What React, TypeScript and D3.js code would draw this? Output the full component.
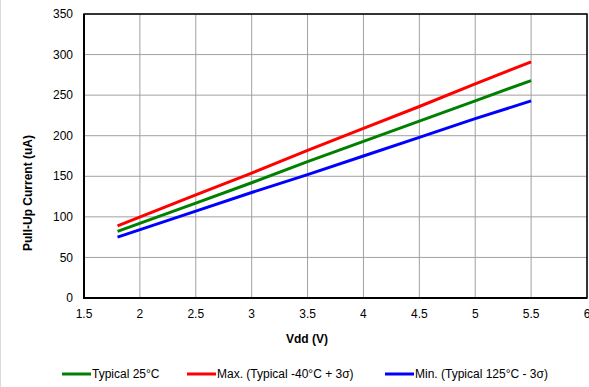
import React from "react";
import * as d3 from "d3";

const vdd = [1.8, 2.5, 3.0, 3.5, 4.0, 4.5, 5.0, 5.5];
const typical25 = [82, 117, 142, 168, 193, 218, 243, 268];
const max40 = [89, 127, 154, 182, 209, 236, 264, 291];
const min125 = [75, 107, 130, 152, 175, 198, 221, 243];
const xTicks = [1.5, 2, 2.5, 3, 3.5, 4, 4.5, 5, 5.5, 6];
const yTicks = [0, 50, 100, 150, 200, 250, 300, 350];
const seriesNames = ["Typical 25°C", "Max. (Typical -40°C + 3σ)", "Min. (Typical 125°C - 3σ)"];
const seriesColors = ["#008000", "#ff0000", "#0000ff"];

const W = 589, H = 387;
const L = 84, R = 587, T = 14, B = 298;
const FONT = "'Liberation Sans', Arial, sans-serif";

export default function App() {
  const x = d3.scaleLinear().domain([1.5, 6]).range([L, R]);
  const y = d3.scaleLinear().domain([0, 350]).range([B, T]);
  const series = [typical25, max40, min125];
  const line = d3.line<[number, number]>().x(d => x(d[0])).y(d => y(d[1]));
  const legendX = [62, 187, 385];

  return (
    <svg width={W} height={H} style={{ position: "absolute", left: 0, top: 0, fontFamily: FONT }}>
      <rect x={0} y={0} width={W} height={H} fill="#fff" />
      <line x1={0.5} x2={0.5} y1={0} y2={H} stroke="#d9d9d9" />
      {xTicks.map(t => (
        <line key={"gx" + t} x1={x(t)} x2={x(t)} y1={T} y2={B} stroke="#a0a0a0" strokeWidth={1} />
      ))}
      {yTicks.map(t => (
        <line key={"gy" + t} x1={L} x2={R} y1={y(t)} y2={y(t)} stroke="#a0a0a0" strokeWidth={1} />
      ))}
      <rect x={L} y={T} width={R - L} height={B - T} fill="none" stroke="#000" strokeWidth={1.5} />
      <line x1={L} x2={L} y1={T} y2={B + 1} stroke="#000" strokeWidth={2} />
      <line x1={L - 1} x2={R} y1={B} y2={B} stroke="#000" strokeWidth={2} />
      {series.map((s, i) => (
        <path key={i} d={line(vdd.map((v, j) => [v, s[j]]))!} fill="none" stroke={seriesColors[i]} strokeWidth={3} />
      ))}
      {yTicks.map(t => (
        <text key={"ty" + t} x={73} y={y(t)} dy="0.35em" textAnchor="end" fontSize={12} fill="#000">{t}</text>
      ))}
      {xTicks.map(t => (
        <text key={"tx" + t} x={x(t)} y={318} textAnchor="middle" fontSize={12} fill="#000">{t}</text>
      ))}
      <text x={307} y={343} textAnchor="middle" fontSize={12} fontWeight="bold">Vdd (V)</text>
      <text transform="translate(32,193) rotate(-90)" textAnchor="middle" fontSize={12} fontWeight="bold">Pull-Up Current (uA)</text>
      {seriesNames.map((n, i) => (
        <g key={n}>
          <line x1={legendX[i]} x2={legendX[i] + 29} y1={374} y2={374} stroke={seriesColors[i]} strokeWidth={3} />
          <text x={legendX[i] + 30} y={378} fontSize={12}>{n}</text>
        </g>
      ))}
    </svg>
  );
}
